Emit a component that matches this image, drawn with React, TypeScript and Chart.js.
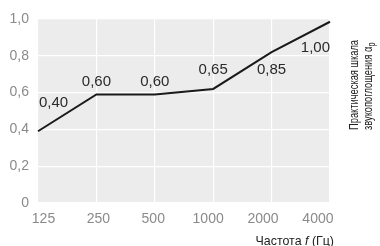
import React, { useEffect, useRef } from "react";
import { Chart, registerables } from "chart.js";

Chart.register(...registerables);

const freqLabels = ["125", "250", "500", "1000", "2000", "4000"];
const absorption = [0.39, 0.59, 0.59, 0.62, 0.82, 0.985];
const valueLabels = ["0,40", "0,60", "0,60", "0,65", "0,85", "1,00"];
const yTitleLine1 = "Практическая шкала";
const yTitleLine2 = "звукопоглощения α";
const yTitleSub = "p";
const xTitleParts = ["Частота ", "f", " (Гц)"];

const FONT = "'Liberation Sans', Arial, sans-serif";

// per-label placement style: [dx, dy, align]
const labelPlacement: [number, number, CanvasTextAlign][] = [
  [1, -28, "left"],
  [0, -13, "center"],
  [0, -13, "center"],
  [0, -19, "center"],
  [0, 18, "center"],
  [0, 26, "right"],
];

const decorPlugin = {
  id: "decor",
  beforeDraw(chart: any) {
    const { ctx, chartArea } = chart;
    ctx.save();
    ctx.fillStyle = "#ececec";
    ctx.fillRect(chartArea.left, chartArea.top, chartArea.right - chartArea.left, chartArea.bottom - chartArea.top);
    ctx.restore();
  },
  afterDraw(chart: any) {
    const { ctx, chartArea } = chart;
    const meta = chart.getDatasetMeta(0);
    ctx.save();
    ctx.fillStyle = "#2a2a2a";
    ctx.font = `15px ${FONT}`;
    ctx.textBaseline = "middle";
    meta.data.forEach((pt: any, i: number) => {
      const [dx, dy, align] = labelPlacement[i];
      ctx.textAlign = align;
      ctx.fillText(valueLabels[i], pt.x + dx, pt.y + dy);
    });

    // right vertical title
    const baseY = chartArea.top + 111;
    ctx.fillStyle = "#222";
    ctx.font = `13.5px ${FONT}`;
    ctx.textAlign = "left";
    ctx.save();
    ctx.translate(chartArea.right + 24, baseY);
    ctx.rotate(-Math.PI / 2);
    ctx.scale(0.69, 1);
    ctx.fillText(yTitleLine1, 0, 0);
    ctx.restore();
    ctx.save();
    ctx.translate(chartArea.right + 38, baseY);
    ctx.rotate(-Math.PI / 2);
    ctx.scale(0.69, 1);
    ctx.fillText(yTitleLine2, 0, 0);
    const w2 = ctx.measureText(yTitleLine2).width;
    ctx.font = `10.5px ${FONT}`;
    ctx.fillText(yTitleSub, w2 + 0.5, 4);
    ctx.restore();

    // bottom title
    const italic = `italic 13.5px ${FONT}`;
    const normal = `13.5px ${FONT}`;
    const sx = 0.92;
    const widths = xTitleParts.map((t, i) => {
      ctx.font = i === 1 ? italic : normal;
      return ctx.measureText(t).width * sx;
    });
    const total = widths.reduce((a, b) => a + b, 0);
    let x = chartArea.right + 4 - total;
    const y = chartArea.bottom + 38;
    xTitleParts.forEach((t, i) => {
      ctx.font = i === 1 ? italic : normal;
      ctx.save();
      ctx.translate(x, y);
      ctx.scale(sx, 1);
      ctx.fillText(t, 0, 0);
      ctx.restore();
      x += widths[i];
    });
    ctx.restore();
  },
};

export default function App() {
  const ref = useRef<HTMLCanvasElement>(null);
  useEffect(() => {
    if (!ref.current) return;
    const chart = new Chart(ref.current, {
      type: "line",
      data: {
        labels: freqLabels,
        datasets: [
          {
            data: absorption,
            borderColor: "#1a1a1a",
            borderWidth: 2,
            pointRadius: 0,
            tension: 0,
            fill: false,
            xAxisID: "x",
          },
        ],
      },
      options: {
        animation: false,
        responsive: false,
        maintainAspectRatio: false,
        layout: { padding: { top: 19, right: 50, left: 0, bottom: 0 } },
        plugins: { legend: { display: false }, tooltip: { enabled: false } },
        scales: {
          x: {
            type: "category",
            offset: false,
            grid: { color: "#ffffff", lineWidth: 1.2, drawTicks: false },
            border: { display: false },
            ticks: { display: false },
            afterFit: (s: any) => {
              s.height = 0;
            },
          },
          xl: {
            type: "linear",
            position: "bottom",
            min: -0.1,
            max: 5.22,
            grid: { display: false, drawTicks: false },
            border: { display: false },
            ticks: {
              color: "#8a8a8a",
              font: { size: 14, family: FONT },
              padding: 8,
              autoSkip: false,
              maxRotation: 0,
              callback: (v: any) => freqLabels[Math.round(v)] ?? "",
            },
            afterBuildTicks: (s: any) => {
              s.ticks = freqLabels.map((_, i) => ({ value: i }));
            },
            afterFit: (s: any) => {
              s.height = 43;
            },
          },
          y: {
            min: 0,
            max: 1,
            grid: { color: "#ffffff", lineWidth: 1.2, drawTicks: false },
            border: { display: false },
            ticks: {
              stepSize: 0.2,
              color: "#8a8a8a",
              font: { size: 14, family: FONT },
              padding: 9,
              callback: (v: any) => (v === 0 ? "0" : Number(v).toFixed(1).replace(".", ",")),
            },
            afterFit: (s: any) => {
              s.width = 38;
            },
          },
        },
      },
      plugins: [decorPlugin],
    } as any);
    return () => chart.destroy();
  }, []);
  return (
    <div style={{ position: "fixed", left: 0, top: 0, width: 380, height: 246 }}>
      <canvas ref={ref} width={380} height={246} style={{ width: 380, height: 246 }} />
    </div>
  );
}
